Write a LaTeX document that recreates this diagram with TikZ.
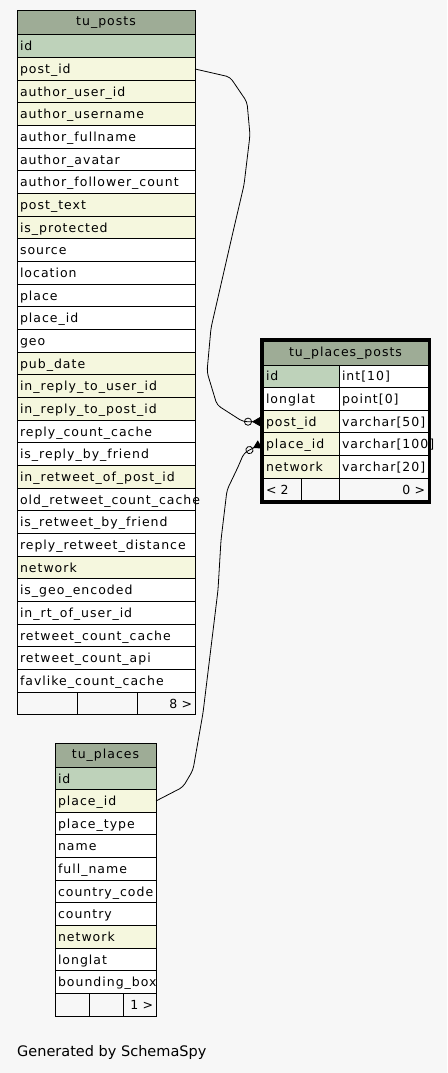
\documentclass[tikz,border=0pt]{standalone}
\usepackage{fontspec}
\setmainfont{DejaVu Sans}
\newfontfamily\cellfont{DejaVu Sans}[LetterSpace=8]
\usetikzlibrary{arrows.meta}
\usetikzlibrary{positioning}
\usetikzlibrary{fit}
\definecolor{page}{HTML}{F7F7F7}
\definecolor{headfill}{HTML}{9EAC96}
\definecolor{key}{HTML}{BED2BA}
\definecolor{idx}{HTML}{F5F7DE}
\tikzset{
	every node/.style={align=left},
	%
	cell/.style={
		draw, line width=1pt, anchor=north west, inner xsep=3pt, inner ysep=0pt,
		outer sep=0pt, minimum height=22.66pt, text height=10pt, text depth=0.67pt,
		font=\cellfont\fontsize{12.5}{15}\selectfont},
	head/.style={cell, fill=headfill, align=center, minimum height=24pt,
		text height=8pt, text depth=2pt},
	frame/.style={draw, line width=3pt, inner sep=1.5pt, outer sep=1.5pt},
	%
	link/.style={line width=0.8pt, rounded corners=4pt,
		-{Circle[open, length=8pt, width=8pt]Triangle[reversed, length=8pt, width=9pt]}},
}

\begin{document}
\begin{tikzpicture}[x=1pt, y=-1pt]
	\fill [page] (0,0) rectangle (447,1073);
	\useasboundingbox (0,0) rectangle (447,1073);
	%
	% tu_posts
	\node (posts) [head, minimum width=178pt] at (17,11) {tu\_posts};
	\foreach \name/\kind [count=\i from 0] in {id/key, post\_id/idx,
			author\_user\_id/idx, author\_username/idx, author\_fullname/white,
			author\_avatar/white, author\_follower\_count/white, post\_text/idx,
			is\_protected/idx, source/white, location/white, place/white,
			place\_id/white, geo/white, pub\_date/idx, in\_reply\_to\_user\_id/idx,
			in\_reply\_to\_post\_id/idx, reply\_count\_cache/white,
			is\_reply\_by\_friend/white, in\_retweet\_of\_post\_id/idx,
			old\_retweet\_count\_cache/white, is\_retweet\_by\_friend/white,
			reply\_retweet\_distance/white, network/idx, is\_geo\_encoded/white,
			in\_rt\_of\_user\_id/white, retweet\_count\_cache/white,
			retweet\_count\_api/white, favlike\_count\_cache/white}
		\node (posts-\i) [cell, fill=\kind, text width=172pt]
			at (17,{35+22.66*\i}) {\name};
	\node (posts-foot-a) [cell, minimum width=60pt] at (17,692.1) {};
	\node (posts-foot-b) [cell, minimum width=60pt, right=0pt of posts-foot-a] {};
	\node (posts-foot-c) [cell, text width=52pt, align=right,
		right=0pt of posts-foot-b] {8 >};
	%
	% tu_places
	\node (places) [head, minimum width=101pt] at (55,743) {tu\_places};
	\foreach \name/\kind [count=\i from 0] in {id/key, place\_id/idx,
			place\_type/white, name/white, full\_name/white, country\_code/white,
			country/white, network/idx, longlat/white, bounding\_box/white}
		\node (places-\i) [cell, fill=\kind, text width=95pt]
			at (55,{767+22.66*\i}) {\name};
	\node (places-foot-a) [cell, minimum width=34pt] at (55,993.6) {};
	\node (places-foot-b) [cell, minimum width=34pt, right=0pt of places-foot-a] {};
	\node (places-foot-c) [cell, text width=27pt, align=right,
		right=0pt of places-foot-b] {1 >};
	%
	% tu_places_posts
	\node (pp) [head, minimum width=165pt] at (263,341) {tu\_places\_posts};
	\foreach \name/\type/\kind [count=\i from 0] in {id/int[10]/key,
			longlat/point[0]/white, post\_id/varchar[50]/idx,
			place\_id/varchar[100]/idx, network/varchar[20]/idx} {
		\node (pp-\i) [cell, fill=\kind, text width=70pt]
			at (263,{365+22.66*\i}) {\name};
		\node (pp-\i-type) [cell, fill=white, text width=83pt, right=0pt of pp-\i]
			{\type};
	}
	\node (pp-foot-a) [cell, text width=32pt] at (263,478.3) {< 2};
	\node (pp-foot-b) [cell, minimum width=38pt, right=0pt of pp-foot-a] {};
	\node (pp-foot-c) [cell, text width=83pt, align=right,
		right=0pt of pp-foot-b] {0 >};
	\node (pp-frame) [frame, fit=(pp) (pp-foot-a) (pp-foot-c)] {};
	%
	\draw [link] (posts-1.east) -- (230,77) -- (247,102) -- (250,135) --
		(244,185) -- (233,232) -- (211,328) -- (207,372) -- (217,405) --
		(243,421.7) -- (pp-frame.west |- pp-2);
	\draw [link] (places-1.east) -- (183,787) -- (193,770) -- (203,713) --
		(218,590) -- (221,540) -- (227,490) -- (238,467) -- (244,453) --
		(pp-frame.west |- pp-3);
	%
	\node (credit) [anchor=base west, inner sep=0pt, font=\fontsize{14.5}{17}\selectfont]
		at (17,1056) {Generated by SchemaSpy};
\end{tikzpicture}
\end{document}
